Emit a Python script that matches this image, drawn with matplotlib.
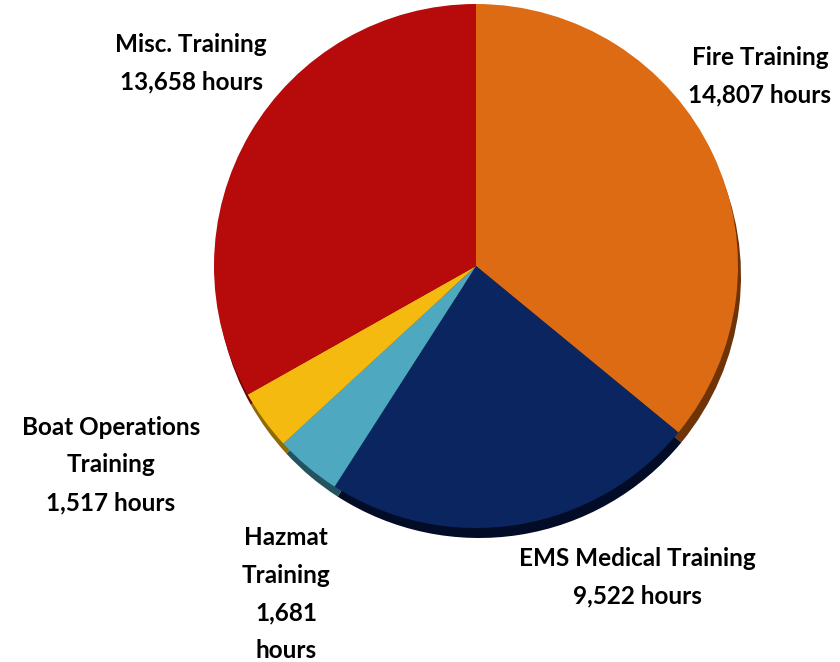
import matplotlib
matplotlib.use("Agg")
import matplotlib.pyplot as plt

categories = ["Fire Training", "EMS Medical Training", "Hazmat Training",
              "Boat Operations Training", "Misc. Training"]
hours = [14807, 9522, 1681, 1517, 13658]
labels = ["Fire Training\n14,807 hours",
          "EMS Medical Training\n9,522 hours",
          "Hazmat\nTraining\n1,681\nhours",
          "Boat Operations\nTraining\n1,517 hours",
          "Misc. Training\n13,658 hours"]

colors = ["#DD6B13", "#0A2560", "#4DA8C0", "#F5BA10", "#B70A0A"]
dark = ["#6E3306", "#020C26", "#22535F", "#8F6A05", "#6A0505"]
label_pos = [(760, 76), (637, 577), (286, 594), (111, 465), (191, 63)]

W, H = 840, 662
fig = plt.figure(figsize=(W / 100, H / 100), dpi=100)
ax = fig.add_axes([0, 0, 1, 1])

cx, cy, r = 476, H - 266, 262

# 3D rim (shadow)
ax.pie(hours, colors=dark, startangle=90, counterclock=False,
       center=(cx + 3, cy - 10), radius=r, frame=True,
       wedgeprops=dict(linewidth=0))
ax.pie(hours, colors=colors, startangle=90, counterclock=False,
       center=(cx, cy), radius=r, frame=True,
       wedgeprops=dict(linewidth=0))
ax.set_xlim(0, W)
ax.set_ylim(0, H)
ax.set_aspect("equal")
ax.axis("off")

for lab, (px, py) in zip(labels, label_pos):
    ax.text(px, H - py, lab, ha="center", va="center", fontsize=17.5,
            fontweight="bold", family="Lato", linespacing=1.78, color="black")

fig.savefig("out.png", dpi=100)
